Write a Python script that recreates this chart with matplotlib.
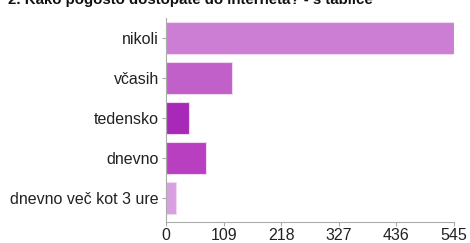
import matplotlib.pyplot as plt

# Data
categories = ["nikoli", "včasih", "tedensko", "dnevno", "dnevno več kot 3 ure"]
counts = [545, 124, 44, 76, 18]
colors = ["#cc7ed4", "#c060c8", "#a828b8", "#b840c0", "#d8a0e0"]
xticks = [0, 109, 218, 327, 436, 545]

plt.rcParams["font.family"] = ["Liberation Sans", "DejaVu Sans"]

fig = plt.figure(figsize=(4.7, 2.43), dpi=100)
ax = fig.add_axes([166 / 470, 1 - 222 / 243, 288 / 470, 204 / 243])

pos = list(range(len(categories)))
ax.barh(pos, counts, height=0.8, color=colors, edgecolor="#f0d8f2", linewidth=0.8)

ax.set_ylim(4.6, -0.5)
ax.set_xlim(0, 545)
ax.set_yticks(pos)
ax.set_yticklabels(categories, fontsize=11.5, color="#222222")
ax.set_xticks(xticks)
ax.set_xticklabels([str(t) for t in xticks], fontsize=11.5, color="#222222")

for s in ["top", "right"]:
    ax.spines[s].set_visible(False)
for s in ["left", "bottom"]:
    ax.spines[s].set_color("#aaaaaa")
    ax.spines[s].set_linewidth(0.8)
ax.tick_params(axis="y", length=3, color="#aaaaaa", pad=2)
ax.tick_params(axis="x", length=3, color="#aaaaaa", pad=1)

fig.text(8 / 470, 1 - 4 / 243, "2. Kako pogosto dostopate do interneta? - s tablice",
         fontsize=10.8, fontweight="bold", va="baseline", ha="left", color="#111111")

fig.savefig("out.png", dpi=100)
